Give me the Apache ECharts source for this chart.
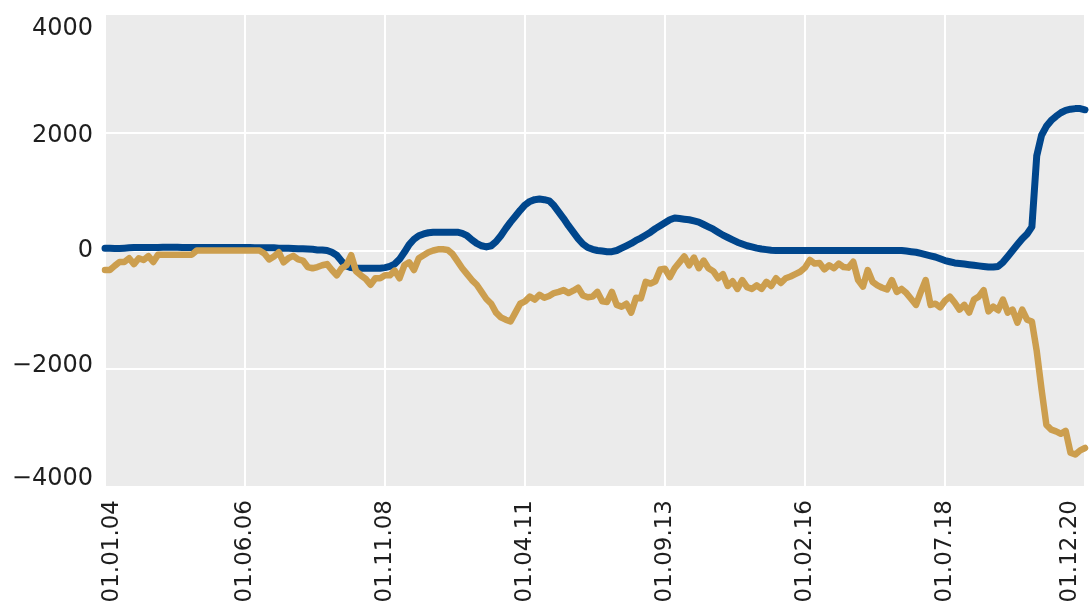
<!DOCTYPE html>
<html>
<head>
<meta charset="utf-8">
<script src="https://cdn.jsdelivr.net/npm/echarts@6/dist/echarts.min.js"></script>
<style>
html,body{margin:0;padding:0;background:#fff;}
#chart{width:1090px;height:609px;}
</style>
</head>
<body>
<div id="chart"></div>
<script>
// Monthly categories 01.01.04 .. 01.12.20
var categories = [];
for (var y = 2004; y <= 2020; y++) {
  for (var m = 1; m <= 12; m++) {
    categories.push('01.' + (m < 10 ? '0' + m : m) + '.' + String(y).slice(2));
  }
}
var tickLabels = ['01.01.04','01.06.06','01.11.08','01.04.11','01.09.13','01.02.16','01.07.18','01.12.20'];
var yTicks = [-4000, -2000, 0, 2000, 4000];

var blueSeries = [
  40,40,35,35,40,45,50,50,50,50,
  50,50,55,55,55,55,50,50,50,50,
  50,50,50,50,50,50,50,50,50,50,
  50,45,45,45,45,45,40,40,40,35,
  30,30,25,20,10,
  10,0,-30,-80,-180,
  -260,-290,-300,-300,-300,-300,-300,-300,-290,-270,
  -230,-150,-30,100,190,250,280,300,310,310,
  310,310,310,310,290,250,180,120,80,60,
  80,150,250,370,480,580,680,770,830,860,
  870,860,840,760,650,540,420,310,200,110,
  50,20,0,-10,-20,-20,0,40,80,120,
  170,210,260,310,370,420,470,520,550,540,
  530,520,500,480,440,400,360,310,260,220,
  180,140,110,80,60,40,25,15,5,0,
  0,0,0,0,0,0,0,0,0,0,
  0,0,0,0,0,0,0,0,0,0,
  0,0,0,0,0,0,
  -10,-20,-30,-50,
  -70,-90,-110,-140,-170,-190,-210,-220,-230,-240,
  -250,-260,-270,-280,-280,-270,-200,-100,0,100,
  200,280,400,1600,1950,2100,2200,2270,2330,2370,
  2390,2400,2400,2380
];

var goldSeries = [
  -330,-330,-260,-195,-195,-130,-230,-130,-160,-95,
  -195,-70,-70,-70,-70,-70,-70,-70,-70,0,
  0,0,0,0,0,0,0,0,0,0,
  0,0,0,
  -50,-150,-100,-30,-200,-130,-90,
  -150,-170,-280,-300,-280,-250,-230,-330,-420,-300,
  -250,-80,-350,-420,-480,-580,-470,-470,-420,-420,
  -340,-470,-250,-200,-330,-130,-80,-30,0,20,
  20,10,-60,-180,-300,-400,-500,-580,-700,-820,
  -900,-1050,-1130,-1170,-1200,-1050,-900,-860,-780,-830,
  -750,-800,-770,-720,-700,-670,-720,-680,-630,-760,
  -790,-780,-700,-860,-870,-700,-920,-950,-900,-1050,
  -800,-810,-530,-560,-520,-320,-310,-450,-300,-200,
  -100,-250,-120,-300,-170,-300,-350,-470,-400,-600,
  -520,-650,-500,-620,-650,-590,-650,-530,-600,-470,
  -550,-470,-440,-400,-360,-290,-160,-220,-210,-320,
  -250,-300,-220,-280,-290,-190,-500,-610,-330,-530,
  -590,-630,-660,-500,-700,-650,-720,-820,-920,-700,
  -500,-920,-900,-960,-850,-780,-880,-1000,-920,-1050,
  -830,-780,-670,-1030,-950,-1010,-830,-1050,-1000,-1220,
  -1000,-1170,-1200,-1700,-2350,-2950,-3030,-3060,-3100,-3050,
  -3420,-3450,-3380,-3340
];

var chart = echarts.init(document.getElementById('chart'));
var fontFam = '"DejaVu Sans", sans-serif';
var option = {
  animation: false,
  backgroundColor: '#ffffff',
  grid: {
    left: 105, right: 5, top: 14, bottom: 122,
    show: true, backgroundColor: '#EBEBEB', borderWidth: 0
  },
  xAxis: {
    type: 'category',
    data: categories,
    boundaryGap: false,
    axisLine: {show: false},
    axisTick: {show: false},
    axisLabel: {
      interval: function (idx, val) { return tickLabels.indexOf(val) >= 0; },
      rotate: 90,
      margin: 13,
      color: '#1e1e1e',
      fontSize: 23,
      fontFamily: fontFam,
      formatter: function (val) {
        if (val === tickLabels[0]) return '{first|' + val + '}';
        if (val === tickLabels[tickLabels.length - 1]) return '{last|' + val + '}';
        return val;
      },
      rich: {
        first: {fontSize: 23, fontFamily: fontFam, color: '#1e1e1e', padding: [14, 0, 0, 0]},
        last: {fontSize: 23, fontFamily: fontFam, color: '#1e1e1e', padding: [0, 0, 30, 0]}
      }
    },
    splitLine: {
      show: true,
      interval: function (idx, val) { return tickLabels.indexOf(val) >= 0; },
      lineStyle: {color: '#ffffff', width: 2}
    }
  },
  yAxis: {
    type: 'value',
    min: -4000, max: 4000, interval: 2000,
    axisLine: {show: false},
    axisTick: {show: false},
    axisLabel: {
      margin: 12,
      color: '#1e1e1e',
      fontSize: 24,
      fontFamily: fontFam,
      formatter: function (v) {
        var s = String(v).replace('-', '\u2212');
        if (v === yTicks[4]) return '{t4|' + s + '}';
        if (v === yTicks[3]) return '{t3|' + s + '}';
        if (v === yTicks[1]) return '{t1|' + s + '}';
        if (v === yTicks[0]) return '{t0|' + s + '}';
        return s;
      },
      rich: {
        t4: {fontSize: 24, fontFamily: fontFam, color: '#1e1e1e', padding: [30, 0, 0, 0]},
        t3: {fontSize: 24, fontFamily: fontFam, color: '#1e1e1e', padding: [8, 0, 0, 0]},
        t1: {fontSize: 24, fontFamily: fontFam, color: '#1e1e1e', padding: [0, 0, 6, 0]},
        t0: {fontSize: 24, fontFamily: fontFam, color: '#1e1e1e', padding: [0, 0, 16, 0]}
      }
    },
    splitLine: {show: true, lineStyle: {color: '#ffffff', width: 2}}
  },
  series: [
    {
      name: 'blue', type: 'line', data: blueSeries,
      symbol: 'none', smooth: false,
      lineStyle: {color: '#00468C', width: 7, join: 'round', cap: 'round'},
      itemStyle: {color: '#00468C'}
    },
    {
      name: 'gold', type: 'line', data: goldSeries,
      symbol: 'none', smooth: false,
      lineStyle: {color: '#CC9E4E', width: 6.5, join: 'round', cap: 'round'},
      itemStyle: {color: '#CC9E4E'}
    }
  ]
};
chart.setOption(option);
</script>
</body>
</html>
